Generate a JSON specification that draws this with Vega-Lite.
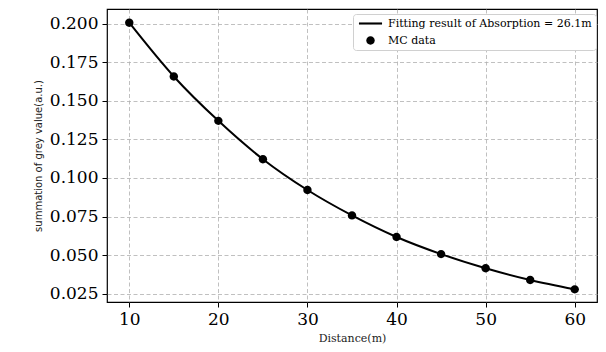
{
  "$schema": "https://vega.github.io/schema/vega-lite/v6.json",
  "autosize": {"type": "none"},
  "padding": {"left": 107, "top": 9, "right": 9, "bottom": 50},
  "width": 490,
  "height": 293,
  "background": "white",
  "datasets": {
    "mc": [
      {"distance": 10, "value": 0.2008},
      {"distance": 15, "value": 0.1659},
      {"distance": 20, "value": 0.1371},
      {"distance": 25, "value": 0.1122},
      {"distance": 30, "value": 0.0922},
      {"distance": 35, "value": 0.0757},
      {"distance": 40, "value": 0.0617},
      {"distance": 45, "value": 0.0506},
      {"distance": 50, "value": 0.0414},
      {"distance": 55, "value": 0.0338},
      {"distance": 60, "value": 0.0277}
    ]
  },
  "data": {"name": "mc"},
  "config": {
    "view": {"stroke": "black", "strokeWidth": 1.2},
    "axis": {
      "domain": false,
      "labelFont": "DejaVu Serif",
      "labelFontSize": 17,
      "labelColor": "black",
      "tickColor": "black",
      "tickSize": 5,
      "tickWidth": 1,
      "labelPadding": 4,
      "grid": true,
      "gridColor": "#b0b0b0",
      "gridDash": [4, 2.5],
      "gridWidth": 0.8,
      "titleFontWeight": "normal",
      "titleColor": "#222"
    }
  },
  "layer": [
    {
      "mark": {"type": "line", "color": "black", "strokeWidth": 2, "interpolate": "monotone"},
      "encoding": {
        "x": {
          "field": "distance", "type": "quantitative",
          "scale": {"domain": [7.5, 62.5], "nice": false, "zero": false},
          "axis": {"values": [10, 20, 30, 40, 50, 60], "title": "Distance(m)", "titleFont": "DejaVu Serif", "titleFontSize": 11, "titlePadding": 5}
        },
        "y": {
          "field": "value", "type": "quantitative",
          "scale": {"domain": [0.0195, 0.2097], "nice": false, "zero": false},
          "axis": {"values": [0.025, 0.05, 0.075, 0.1, 0.125, 0.15, 0.175, 0.2], "format": ".3f", "title": "summation of grey value(a.u.)", "titleFont": "DejaVu Sans", "titleFontSize": 10, "titlePadding": 6}
        }
      }
    },
    {
      "mark": {"type": "point", "filled": true, "color": "black", "opacity": 1, "size": 49},
      "encoding": {
        "x": {"field": "distance", "type": "quantitative"},
        "y": {"field": "value", "type": "quantitative"},
        "shape": {
          "datum": "MC data",
          "type": "nominal",
          "scale": {"domain": ["Fitting result of Absorption = 26.1m", "MC data"], "range": ["M-3.3,-0.3L3.3,-0.3L3.3,0.3L-3.3,0.3Z", "M-1.2,0A1.2,1.2 0 1,0 1.2,0A1.2,1.2 0 1,0 -1.2,0Z"]},
          "legend": {
            "title": null,
            "orient": "none",
            "legendX": 246,
            "legendY": 5,
            "labelFont": "DejaVu Serif",
            "labelFontSize": 11,
            "labelColor": "black",
            "labelLimit": 500,
            "symbolSize": 49,
            "symbolOffset": 8,
            "labelOffset": 12,
            "rowPadding": 5,
            "padding": 4,
            "strokeColor": "#d0d0d0",
            "fillColor": "white",
            "cornerRadius": 3,
            "symbolFillColor": "black",
            "symbolStrokeWidth": 0,
            "encode": {"symbols": {"update": {"fill": {"value": "black"}, "strokeWidth": {"value": 0}, "opacity": {"value": 1}}}}
          }
        }
      }
    }
  ]
}
